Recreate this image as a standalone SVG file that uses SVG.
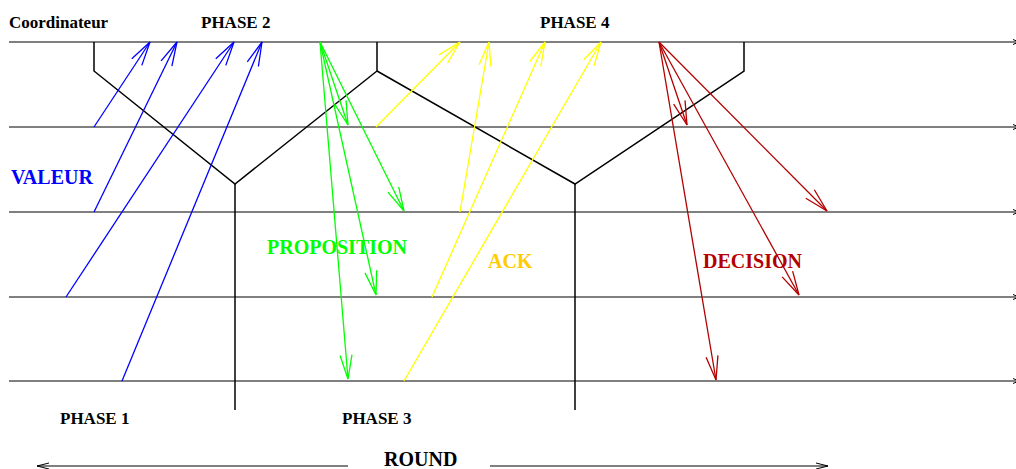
<svg xmlns="http://www.w3.org/2000/svg" width="1016" height="469" viewBox="0 0 1016 469">
<defs>
<style>
text{font-family:"Liberation Serif","Times New Roman",serif;font-weight:bold}
.ph{font-size:17px;fill:#000}
.lb{font-size:20px}
.hl{stroke:#000;stroke-width:1;fill:none}
.frame{stroke:#000;stroke-width:1.5;fill:none}
.b{stroke:#0000ff;stroke-width:1.3;fill:none;marker-end:url(#mb)}
.g{stroke:#00ff00;stroke-width:1.3;fill:none;marker-end:url(#mg)}
.y{stroke:#ffff00;stroke-width:1.3;fill:none;marker-end:url(#my)}
.r{stroke:#b30000;stroke-width:1.3;fill:none;marker-end:url(#mr)}
</style>
<marker id="mb" markerUnits="userSpaceOnUse" viewBox="-26 -8 28 16" markerWidth="28" markerHeight="16" refX="0" refY="0" orient="auto"><path d="M-24,-6 L0,0 L-24,6" fill="none" stroke="#0000ff" stroke-width="1.3"/></marker>
<marker id="mg" markerUnits="userSpaceOnUse" viewBox="-26 -8 28 16" markerWidth="28" markerHeight="16" refX="0" refY="0" orient="auto"><path d="M-24,-6 L0,0 L-24,6" fill="none" stroke="#00ff00" stroke-width="1.3"/></marker>
<marker id="my" markerUnits="userSpaceOnUse" viewBox="-26 -8 28 16" markerWidth="28" markerHeight="16" refX="0" refY="0" orient="auto"><path d="M-24,-6 L0,0 L-24,6" fill="none" stroke="#ffff00" stroke-width="1.3"/></marker>
<marker id="mr" markerUnits="userSpaceOnUse" viewBox="-26 -8 28 16" markerWidth="28" markerHeight="16" refX="0" refY="0" orient="auto"><path d="M-24,-6 L0,0 L-24,6" fill="none" stroke="#b30000" stroke-width="1.3"/></marker>
<marker id="mk" markerUnits="userSpaceOnUse" viewBox="-14 -5 16 10" markerWidth="16" markerHeight="10" refX="0" refY="0" orient="auto"><path d="M-12,-3 L0,0 L-12,3" fill="none" stroke="#000" stroke-width="1"/></marker>
<marker id="ms" markerUnits="userSpaceOnUse" viewBox="-8 -4 10 8" markerWidth="10" markerHeight="8" refX="0" refY="0" orient="auto"><path d="M-6,-2.5 L0,0 L-6,2.5" fill="none" stroke="#000" stroke-width="1"/></marker>
</defs>
<rect width="1016" height="469" fill="#fff"/>

<g id="timelines">
<line class="hl" x1="9" y1="42" x2="1019" y2="42" marker-end="url(#ms)"/>
<line class="hl" x1="9" y1="127" x2="1019" y2="127" marker-end="url(#ms)"/>
<line class="hl" x1="9" y1="212" x2="1019" y2="212" marker-end="url(#ms)"/>
<line class="hl" x1="9" y1="297" x2="1019" y2="297" marker-end="url(#ms)"/>
<line class="hl" x1="9" y1="381" x2="1019" y2="381" marker-end="url(#ms)"/>
</g>

<g id="phase-frame">
<polyline class="frame" points="94,42 94,71 235,184 377,71 377,42"/>
<polyline class="frame" points="377,71 575,184 744,71 744,42"/>
<line class="frame" x1="235" y1="184" x2="235" y2="410"/>
<line class="frame" x1="575" y1="184" x2="575" y2="410"/>
</g>

<g id="connectors">
<line class="b" x1="94" y1="127" x2="150" y2="42"/>
<line class="b" x1="94" y1="212" x2="177" y2="42"/>
<line class="b" x1="66" y1="297" x2="234" y2="42"/>
<line class="b" x1="122" y1="381" x2="262" y2="42"/>

<line class="g" x1="320" y1="42" x2="348" y2="125"/>
<line class="g" x1="320" y1="42" x2="404" y2="211"/>
<line class="g" x1="320" y1="42" x2="376" y2="295"/>
<line class="g" x1="320" y1="42" x2="348" y2="379"/>

<line class="y" x1="376" y1="127" x2="460" y2="42"/>
<line class="y" x1="460" y1="212" x2="489" y2="42"/>
<line class="y" x1="432" y1="297" x2="545" y2="42"/>
<line class="y" x1="404" y1="381" x2="601" y2="42"/>

<line class="r" x1="659" y1="42" x2="687" y2="125"/>
<line class="r" x1="659" y1="42" x2="827" y2="211"/>
<line class="r" x1="659" y1="42" x2="799" y2="295"/>
<line class="r" x1="659" y1="42" x2="716" y2="380"/>

<line class="hl" x1="348" y1="466" x2="37" y2="466" marker-end="url(#mk)"/>
<line class="hl" x1="490" y1="466" x2="828" y2="466" marker-end="url(#mk)"/>
</g>

<g id="labels">
<text class="ph" x="9" y="28">Coordinateur</text>
<text class="ph" x="201" y="28">PHASE 2</text>
<text class="ph" x="540" y="28">PHASE 4</text>
<text class="ph" x="60" y="424">PHASE 1</text>
<text class="ph" x="342" y="424">PHASE 3</text>
<text class="lb" x="384" y="466" fill="#000">ROUND</text>
<text class="lb" x="11" y="184" fill="#0000ff">VALEUR</text>
<text class="lb" x="267" y="254" fill="#00ff00">PROPOSITION</text>
<text class="lb" x="488" y="268" fill="#ffcc00">ACK</text>
<text class="lb" x="703" y="268" fill="#b30000">DECISION</text>
</g>
</svg>
